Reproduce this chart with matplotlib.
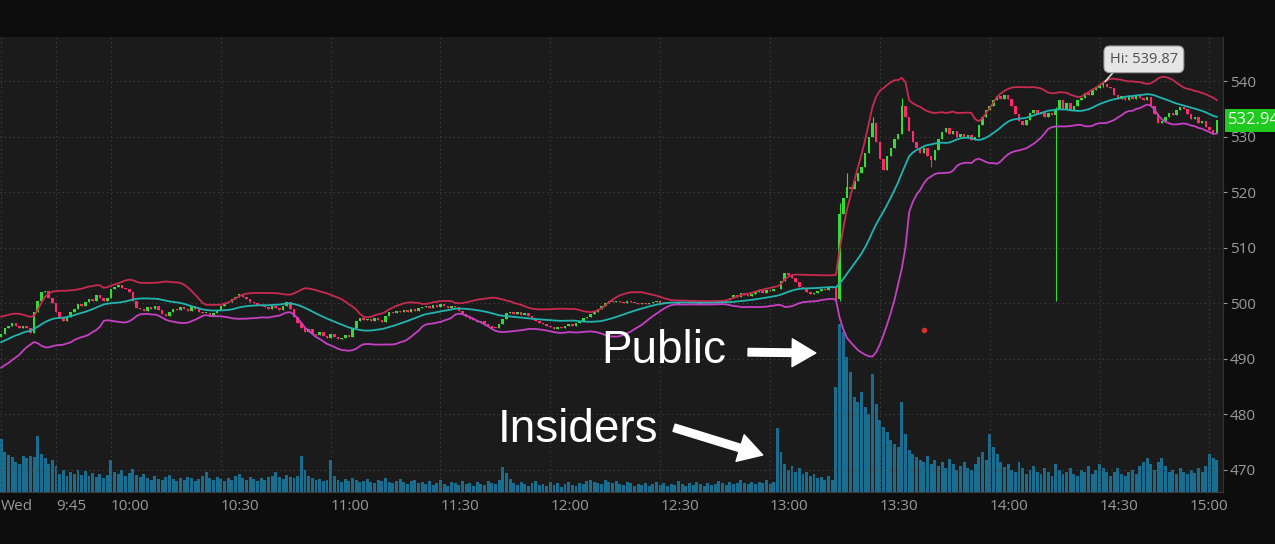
import numpy as np
import pandas as pd
import matplotlib
matplotlib.use('Agg')
import matplotlib.pyplot as plt
import matplotlib.transforms as mtransforms

# 1-minute closes, Wed 9:30 -> 15:02 (t = minutes after 9:30)
closes = [
    494.5, 495.5, 496.0, 496.5, 496.0, 495.5, 496.0, 495.5, 494.6, 498.5,
    500.5, 502.0, 502.2, 501.0, 500.0, 498.5, 497.5, 496.8, 497.5, 498.5,
    499.0, 499.8, 499.5, 500.3, 500.8, 500.5, 501.5, 501.0, 500.5, 501.0,
    502.5, 503.0, 503.2, 502.8, 502.5, 502.0, 500.5, 499.2, 499.0, 498.6,
    499.3, 499.0, 499.5, 498.8, 498.0, 497.8, 498.5, 499.0, 498.8, 499.3,
    499.0, 498.7, 499.5, 499.0, 498.5, 498.2, 498.3, 497.8, 498.2, 498.8,
    499.5, 500.0, 500.3, 500.8, 501.2, 501.6, 501.2, 500.8, 500.3, 500.0,
    499.7, 499.5, 499.3, 499.0, 499.5, 499.2, 498.8, 499.5, 500.2, 499.0,
    497.5, 496.5, 495.5, 494.8, 495.3, 494.5, 494.3, 494.8, 494.2, 493.8,
    494.5, 494.0, 493.6, 493.8, 494.3, 494.0, 495.5, 496.8, 497.3, 497.0,
    497.2, 496.8, 497.3, 497.0, 496.6, 497.8, 498.5, 498.3, 498.6, 498.4,
    498.8, 498.5, 499.0, 498.7, 499.2, 499.4, 499.5, 499.2, 499.7, 499.4,
    499.8, 499.5, 499.2, 499.6, 499.3, 498.6, 498.0, 497.5, 497.2, 497.0,
    496.6, 496.8, 496.3, 496.0, 495.6, 495.5, 496.3, 497.2, 498.2, 498.5,
    498.1, 498.4, 497.9, 498.2, 497.8, 497.2, 496.8, 496.5, 496.2, 496.0,
    495.7, 495.4, 495.8, 495.5, 496.0, 496.3, 496.0, 496.4, 496.8, 497.3,
    497.6, 498.0, 498.5, 499.0, 499.5, 500.0, 500.4, 500.2, 500.5, 500.3,
    500.1, 500.4, 500.2, 500.0, 499.9, 500.1, 499.8, 500.0, 500.2, 500.4,
    500.1, 500.0, 500.3, 500.1, 499.9, 500.2, 500.0, 500.1, 500.3, 500.0,
    499.9, 500.2, 500.0, 500.1, 500.3, 500.1, 500.4, 500.2, 500.6, 501.0,
    501.5, 501.2, 501.8, 501.5, 501.3, 501.7, 502.0, 502.3, 501.8, 502.4,
    502.2, 502.6, 502.5, 504.0, 505.5, 505.0, 504.6, 503.8, 503.0, 502.5,
    502.0, 501.7, 501.9, 502.2, 502.6, 502.4, 503.0, 502.8, 500.8, 516.0,
    519.0, 521.0, 520.5, 522.0, 523.5, 524.5, 527.0, 530.0, 532.5, 529.0,
    526.0, 524.0, 526.5, 528.0, 529.5, 530.5, 535.5, 533.5, 531.0, 529.0,
    528.0, 527.0, 528.0, 526.5, 525.8, 527.5, 529.5, 530.8, 531.5, 530.5,
    531.0, 530.0, 530.5, 529.8, 530.2, 529.3, 530.0, 532.0, 533.5, 534.8,
    535.5, 536.5, 537.3, 536.8, 537.5, 536.7, 535.5, 534.0, 532.8, 532.0,
    533.0, 534.2, 534.8, 534.0, 534.5, 533.5, 534.2, 533.8, 535.0, 536.5,
    535.0, 536.0, 534.8, 535.5, 536.5, 537.0, 537.8, 537.5, 538.3, 538.8,
    539.2, 539.5, 539.0, 538.7, 537.5, 536.8, 537.3, 536.6, 537.1, 536.8,
    537.4, 537.0, 536.5, 537.2, 535.5, 534.0, 532.5, 532.8, 533.5, 534.2,
    533.8, 534.8, 535.3, 535.0, 534.0, 533.2, 533.5, 532.5, 532.8, 531.8,
    531.2, 530.6, 532.94,
]
first_open = 494.0

# last closes before the open, only used to warm up the bands
warmup = [489.5, 490.2, 489.8, 490.5, 491.0, 490.4, 491.2, 492.0, 491.5, 492.8,
          493.5, 494.2, 495.0, 494.6, 495.8, 496.5, 496.0, 495.2, 495.8]

# visible wicks (low, high)
wicks = {229: (500.5, 518.0), 231: (519.5, 523.5), 238: (530.0, 533.5),
         246: (530.5, 537.0), 254: (524.5, 526.5), 288: (500.5, 535.3),
         301: (539.0, 539.87)}

# volume, thousands of shares per minute
volume = [
    53, 40, 37, 35, 30, 28, 36, 34, 36, 35,
    56, 38, 34, 28, 32, 26, 18, 22, 16, 20,
    18, 22, 17, 21, 16, 19, 15, 18, 14, 17,
    32, 20, 18, 22, 16, 19, 23, 17, 15, 18,
    14, 12, 16, 13, 12, 15, 17, 13, 11, 14,
    12, 15, 14, 11, 13, 16, 20, 14, 12, 15,
    13, 11, 14, 12, 16, 18, 14, 12, 15, 13,
    11, 14, 12, 15, 16, 20, 15, 13, 17, 15,
    14, 16, 36, 22, 16, 14, 12, 13, 11, 12,
    32, 16, 12, 10, 13, 11, 14, 12, 10, 11,
    13, 10, 9, 12, 11, 14, 10, 9, 11, 13,
    10, 8, 11, 12, 9, 10, 8, 11, 7, 9,
    12, 8, 6, 10, 9, 7, 11, 8, 9, 6,
    10, 8, 7, 11, 9, 8, 12, 25, 19, 13,
    9, 7, 10, 8, 6, 9, 11, 7, 8, 6,
    10, 7, 9, 5, 8, 10, 7, 6, 9, 8,
    11, 12, 10, 9, 8, 12, 10, 9, 11, 8,
    7, 10, 9, 6, 8, 7, 9, 6, 8, 10,
    7, 9, 6, 8, 7, 11, 8, 6, 9, 7,
    10, 8, 6, 9, 7, 8, 11, 9, 7, 10,
    8, 9, 12, 9, 8, 10, 8, 10, 9, 12,
    8, 10, 64, 40, 28, 22, 26, 20, 24, 18,
    20, 16, 18, 14, 15, 12, 16, 12, 105, 168,
    160, 135, 120, 95, 90, 100, 85, 78, 118, 88,
    72, 65, 60, 52, 48, 45, 90, 58, 42, 38,
    35, 32, 30, 36, 28, 32, 26, 30, 24, 33,
    28, 22, 26, 30, 24, 22, 28, 35, 40, 32,
    58, 45, 38, 30, 25, 28, 22, 20, 30, 24,
    18, 22, 26, 20, 18, 24, 20, 16, 28, 22,
    18, 20, 24, 18, 16, 22, 20, 26, 18, 22,
    28, 24, 20, 16, 20, 24, 18, 16, 20, 22,
    18, 26, 30, 34, 28, 22, 30, 34, 26, 20,
    22, 18, 24, 20, 18, 22, 19, 24, 20, 26,
    38, 34, 32,
]

tick_pos = [0, 15, 30, 60, 90, 120, 150, 180, 210, 240, 270, 300, 330]
tick_lbl = ['Wed', '9:45', '10:00', '10:30', '11:00', '11:30', '12:00',
            '12:30', '13:00', '13:30', '14:00', '14:30', '15:00']
marker_t, marker_p = 252, 495.2
day_high = 539.87
last_price = closes[-1]

t = np.arange(len(closes))
c = np.array(closes)
o = np.r_[first_open, c[:-1]]
hi = np.maximum(o, c)
lo = np.minimum(o, c)
for k, (l, h) in wicks.items():
    lo[k] = l
    hi[k] = h

s = pd.Series(warmup + closes)
mid = s.rolling(20).mean().values[len(warmup):]
sd = s.rolling(20).std(ddof=0).values[len(warmup):]
upper = mid + 2 * sd
lower = mid - 2 * sd

up_col, dn_col = '#39d939', '#ff2b6a'
cols = [up_col if cc >= oo else dn_col for oo, cc in zip(o, c)]

fig = plt.figure(figsize=(12.75, 5.44), dpi=100, facecolor='#0d0d0d')
rect = [0, 0.0956, 0.9592, 0.8364]

axv = fig.add_axes(rect)
axv.set_facecolor('#1b1b1b')
axv.bar(t, volume, width=0.8, color='#1b6d8f', linewidth=0)
axv.set_ylim(0, 455)
axv.set_yticks([])
axv.tick_params(axis='x', bottom=False, labelbottom=False)
for sp in axv.spines.values():
    sp.set_visible(False)

ax = fig.add_axes(rect, sharex=axv)
ax.patch.set_visible(False)
ax.set_xlim(-0.3, 333.7)
ax.set_ylim(466.04, 547.92)

ax.grid(True, color='#444444', linestyle=(0, (1, 3)), linewidth=0.8)
ax.set_axisbelow(True)

ax.vlines(t, lo, hi, colors=cols, linewidth=0.8, zorder=3)
ax.bar(t, np.maximum(np.abs(c - o), 0.15), bottom=np.minimum(o, c),
       width=0.68, color=cols, linewidth=0, zorder=3)

ax.plot(t, upper, color='#c82a50', lw=1.3, zorder=4)
ax.plot(t, mid, color='#22b5b0', lw=1.3, zorder=4)
ax.plot(t, lower, color='#c640c4', lw=1.3, zorder=4)

ax.plot(marker_t, marker_p, 'o', color='#d9302a', ms=3, zorder=4)

ax.yaxis.tick_right()
ax.set_yticks(range(470, 541, 10))
ax.tick_params(axis='y', colors='#9a9a9a', labelsize=11, length=3, pad=2)
ax.set_xticks(tick_pos)
ax.set_xticklabels(tick_lbl, ha='left')
ax.tick_params(axis='x', colors='#9a9a9a', labelsize=11, length=0, pad=5)
for lab in ax.get_xticklabels() + ax.get_yticklabels():
    lab.set_family(['Open Sans', 'DejaVu Sans'])
ax.get_xticklabels()[-1].set_ha('center')

for side in ['top', 'left']:
    ax.spines[side].set_visible(False)
ax.spines['right'].set_color('#333333')
ax.spines['bottom'].set_color('#3a3a3a')

# annotations
big = dict(color='white', fontsize=33, family=['Liberation Sans', 'DejaVu Sans'],
           va='baseline', ha='left', zorder=6)
ax.text(163.8, 489.25, 'Public', **big)
ax.text(135.7, 475.0, 'Insiders', **big)
arrow = dict(arrowstyle='simple,head_length=0.85,head_width=1.0,tail_width=0.27',
             color='white', mutation_scale=20, shrinkA=0, shrinkB=0)
ax.annotate('', xy=(222.5, 491.05), xytext=(204.0, 491.2), arrowprops=arrow, zorder=6)
ax.annotate('', xy=(208.0, 472.7), xytext=(183.8, 477.6), arrowprops=arrow, zorder=6)

ax.annotate(f'Hi: {day_high:.2f}', xy=(301.5, day_high), xytext=(312.1, 543.9),
            ha='center', va='center', fontsize=10.5, color='#505050',
            family=['Open Sans', 'DejaVu Sans'],
            bbox=dict(boxstyle='round,pad=0.4', fc='#e6e6e6', ec='#a0a0a0', lw=0.8),
            arrowprops=dict(arrowstyle='-', color='#d8d8d8', lw=1.2,
                            relpos=(0.12, 0.0), shrinkA=0, shrinkB=0),
            zorder=6)

trans = mtransforms.blended_transform_factory(ax.transAxes, ax.transData)
ax.text(1.004, last_price, f'{last_price:.2f}', transform=trans, ha='left', va='center',
        fontsize=12, color='#f2fff2', family=['Open Sans', 'DejaVu Sans'],
        bbox=dict(boxstyle='square,pad=0.2', fc='#1fc91f', ec='none'), clip_on=False, zorder=7)

fig.savefig('out.png', dpi=100, facecolor=fig.get_facecolor())
